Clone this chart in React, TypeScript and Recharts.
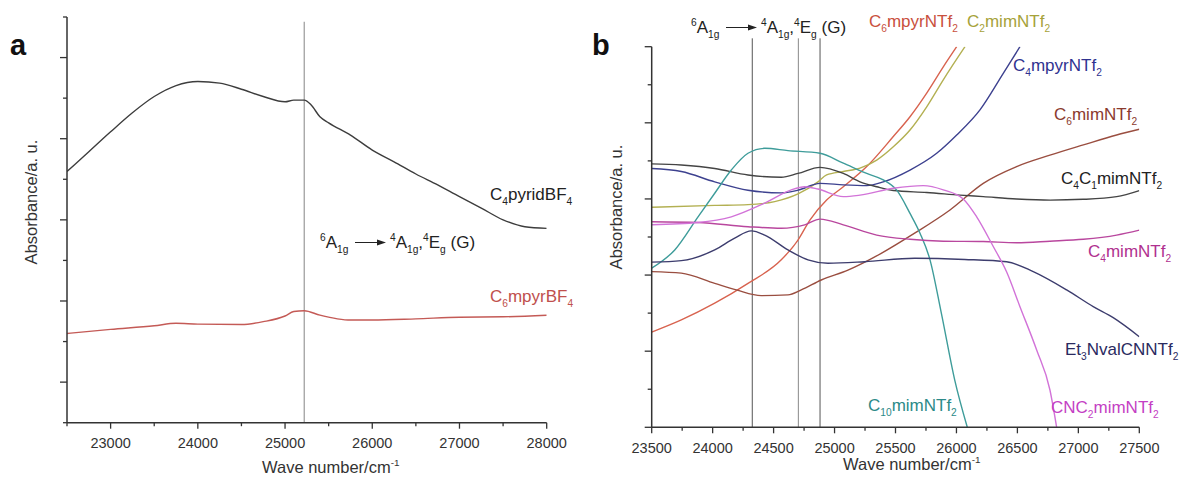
import React from 'react'
import { LineChart, Line, XAxis, YAxis, ReferenceLine } from 'recharts'

const FONT = '"Liberation Sans", Arial, sans-serif'

// ---- panel a ----
const aPyridWave = [22500, 22750, 23000, 23250, 23500, 23750, 24000, 24250, 24500, 24750, 25000, 25100, 25220, 25300, 25400, 25500, 25750, 26000, 26250, 26500, 26750, 27000, 27250, 27500, 27750, 28000]
const aPyridAbs = [6.19, 6.68, 7.17, 7.64, 8.04, 8.31, 8.41, 8.37, 8.22, 8.04, 7.91, 7.95, 7.95, 7.83, 7.54, 7.39, 7.09, 6.72, 6.43, 6.13, 5.86, 5.57, 5.29, 5.0, 4.83, 4.79]
const aMpyrWave = [22500, 23000, 23500, 23750, 24000, 24500, 24750, 25000, 25100, 25220, 25400, 25600, 25750, 26000, 26500, 27000, 27500, 28000]
const aMpyrAbs = [2.2, 2.3, 2.39, 2.45, 2.43, 2.42, 2.49, 2.63, 2.74, 2.76, 2.65, 2.56, 2.53, 2.53, 2.56, 2.6, 2.61, 2.65]
const aXTicks = [22500, 23000, 23500, 24000, 24500, 25000, 25500, 26000, 26500, 27000, 27500, 28000]
const aMarker = 25220

// ---- panel b ----
const bC6mpyrWave = [23500, 23743, 24017, 24290, 24563, 24700, 24799, 24935, 25072, 25264, 25482, 25619, 25756, 25892, 26002]
const bC6mpyrAbs = [2.5, 2.82, 3.26, 3.78, 4.4, 4.92, 5.45, 5.97, 6.32, 6.85, 7.64, 8.16, 8.78, 9.47, 10.0]
const bC2mimWave = [23500, 24017, 24290, 24509, 24700, 24864, 24935, 25072, 25209, 25346, 25482, 25619, 25756, 25892, 26070]
const bC2mimAbs = [5.78, 5.83, 5.85, 5.93, 6.13, 6.45, 6.63, 6.72, 6.81, 7.02, 7.37, 7.81, 8.42, 9.13, 10.0]
const bC4mpyrWave = [23500, 23743, 24017, 24290, 24563, 24700, 24881, 25072, 25264, 25400, 25619, 25838, 26002, 26193, 26384, 26521]
const bC4mpyrAbs = [6.8, 6.72, 6.45, 6.23, 6.16, 6.23, 6.41, 6.37, 6.35, 6.45, 6.76, 7.2, 7.68, 8.34, 9.3, 10.0]
const bC6mimWave = [23500, 23743, 24017, 24194, 24399, 24618, 24727, 24891, 25110, 25383, 25657, 25947, 26220, 26494, 26767, 27041, 27314, 27500]
const bC6mimAbs = [4.09, 4.05, 3.78, 3.61, 3.46, 3.48, 3.61, 3.87, 4.13, 4.57, 5.1, 5.71, 6.41, 6.85, 7.15, 7.42, 7.68, 7.83]
const bC4C1Wave = [23500, 23743, 24017, 24290, 24563, 24700, 24881, 25072, 25209, 25346, 25482, 25756, 26029, 26220, 26494, 26768, 27040, 27314, 27500]
const bC4C1Abs = [6.92, 6.89, 6.8, 6.63, 6.57, 6.67, 6.83, 6.67, 6.45, 6.32, 6.22, 6.17, 6.1, 6.06, 6.0, 5.97, 5.99, 6.06, 6.22]
const bC10Wave = [23500, 23689, 23880, 24017, 24153, 24290, 24427, 24618, 24881, 25072, 25264, 25400, 25510, 25619, 25701, 25783, 25876, 25986, 26089]
const bC10Abs = [4.18, 4.66, 5.53, 6.15, 6.76, 7.2, 7.33, 7.27, 7.2, 6.94, 6.67, 6.5, 6.23, 5.62, 5.1, 4.4, 3.0, 1.24, 0]
const bEt3Wave = [23500, 23743, 24017, 24181, 24317, 24427, 24618, 24782, 24946, 25247, 25657, 26068, 26412, 26630, 26904, 27122, 27286, 27500]
const bEt3Abs = [4.34, 4.38, 4.66, 4.97, 5.16, 5.05, 4.66, 4.4, 4.31, 4.35, 4.44, 4.41, 4.35, 4.09, 3.61, 3.17, 2.88, 2.38]
const bC4mimWave = [23500, 23880, 24290, 24563, 24755, 24881, 25072, 25346, 25619, 25892, 26220, 26494, 26767, 27041, 27314, 27500]
const bC4mimAbs = [5.4, 5.38, 5.27, 5.23, 5.32, 5.47, 5.32, 5.05, 4.94, 4.89, 4.88, 4.85, 4.89, 4.94, 5.05, 5.18]
const bCNC2Wave = [23500, 23880, 24153, 24427, 24645, 24755, 24864, 25072, 25209, 25482, 25728, 25892, 26056, 26166, 26302, 26412, 26521, 26658, 26767, 26822]
const bCNC2Abs = [5.32, 5.38, 5.53, 5.89, 6.24, 6.32, 6.26, 6.06, 6.1, 6.28, 6.35, 6.24, 6.0, 5.53, 4.75, 4.08, 3.17, 2.03, 0.98, 0]
const bXTicks = [23500, 23750, 24000, 24250, 24500, 24750, 25000, 25250, 25500, 25750, 26000, 26250, 26500, 26750, 27000, 27250, 27500]
const bMarkers = [24325, 24703, 24881]

const yTicks = [0, 1, 2, 3, 4, 5, 6, 7, 8, 9, 10]

const toPts = (w: number[], v: number[]) => w.map((x, i) => ({ x, y: v[i] }))

const bSeries = [
  { name: 'C6mpyr', w: bC6mpyrWave, v: bC6mpyrAbs, color: '#d8634f' },
  { name: 'C2mim', w: bC2mimWave, v: bC2mimAbs, color: '#b3b052' },
  { name: 'C4mpyr', w: bC4mpyrWave, v: bC4mpyrAbs, color: '#3d418f' },
  { name: 'C6mim', w: bC6mimWave, v: bC6mimAbs, color: '#9a4e40' },
  { name: 'C4C1', w: bC4C1Wave, v: bC4C1Abs, color: '#444444' },
  { name: 'C10', w: bC10Wave, v: bC10Abs, color: '#3e9c9a' },
  { name: 'Et3', w: bEt3Wave, v: bEt3Abs, color: '#3d3d6e' },
  { name: 'C4mim', w: bC4mimWave, v: bC4mimAbs, color: '#b9479e' },
  { name: 'CNC2', w: bCNC2Wave, v: bCNC2Abs, color: '#d273d8' },
]

const makeXTick = (majorStep: number) => (p: any) => {
  const { x, y, payload } = p
  const major = payload.value % majorStep === 0
  return (
    <g>
      <line x1={x} x2={x} y1={y} y2={y + (major ? 6 : 3.5)} stroke="#333" strokeWidth={1.3} />
      {major && (
        <text x={x} y={y + 25.5} textAnchor="middle" fontSize={14.5} fill="#333" fontFamily={FONT}>
          {payload.value}
        </text>
      )}
    </g>
  )
}

const makeYTick = (oddMajor: boolean) => (p: any) => {
  const v = p.payload.value
  const major = (v % 2 === 1) === oddMajor
  return <line x1={p.x} x2={p.x - (major ? 7 : 4)} y1={p.y} y2={p.y} stroke="#333" strokeWidth={1.3} />
}

// text with _sub and ^sup markup
const Chem = ({ x, y, s, fill = '#333', size = 17, anchor = 'start', transform }: any) => {
  const toks: string[] = s.match(/_\{[^}]*\}|\^\{[^}]*\}|_.|\^.|[^_^]+/g) || []
  let cur = 0
  return (
    <text x={x} y={y} fill={fill} fontSize={size} fontFamily={FONT} textAnchor={anchor} transform={transform}>
      {toks.map((t, i) => {
        let kind = 0
        let txt = t
        if (t[0] === '_' || t[0] === '^') {
          kind = t[0] === '_' ? 1 : -1
          txt = t[1] === '{' ? t.slice(2, -1) : t.slice(1)
        }
        const target = kind === 1 ? size * 0.32 : kind === -1 ? -size * 0.42 : 0
        const dy = target - cur
        cur = target
        return (
          <tspan key={i} dy={dy} fontSize={kind ? size * 0.6 : size}>
            {txt}
          </tspan>
        )
      })}
    </text>
  )
}

const Transition = ({ x, y }: { x: number; y: number }) => (
  <g>
    <Chem x={x} y={y} s="^6A_{1g}" fill="#222" />
    <line x1={x + 35} x2={x + 60} y1={y - 5.5} y2={y - 5.5} stroke="#222" strokeWidth={1} />
    <polygon points={`${x + 66},${y - 5.5} ${x + 57},${y - 8.5} ${x + 57},${y - 2.5}`} fill="#222" />
    <Chem x={x + 70} y={y} s="^4A_{1g},^4E_g (G)" fill="#222" />
  </g>
)

const labelsB = [
  { s: 'C_6mpyrNTf_2', x: 869, y: 27, fill: '#c9503d' },
  { s: 'C_2mimNTf_2', x: 967, y: 27, fill: '#a6a23a' },
  { s: 'C_4mpyrNTf_2', x: 1013, y: 71, fill: '#2f3290' },
  { s: 'C_6mimNTf_2', x: 1054, y: 120, fill: '#8b3a2e' },
  { s: 'C_4C_1mimNTf_2', x: 1061, y: 184, fill: '#222' },
  { s: 'C_4mimNTf_2', x: 1088, y: 257, fill: '#b0308f' },
  { s: 'Et_3NvalCNNTf_2', x: 1065, y: 355, fill: '#2a2a60' },
  { s: 'CNC_2mimNTf_2', x: 1051, y: 413, fill: '#c43fc4' },
  { s: 'C_{10}mimNTf_2', x: 868, y: 411, fill: '#2c8a88' },
]

const axisStyle = { stroke: '#333', strokeWidth: 1.5 }

export default function App() {
  return (
    <div style={{ position: 'fixed', left: 0, top: 0, width: 1185, height: 479, background: '#fff', fontFamily: FONT }}>
      <div style={{ position: 'absolute', left: 0, top: 0 }}>
        <LineChart width={600} height={479} margin={{ top: 17, left: 47, right: 53.3, bottom: 26.3 }}>
          <XAxis
            type="number"
            dataKey="x"
            domain={[22500, 28000]}
            allowDataOverflow
            ticks={aXTicks}
            interval={0}
            height={30}
            tickSize={0}
            tickMargin={0}
            tickLine={false}
            tick={makeXTick(1000)}
            axisLine={axisStyle}
          />
          <YAxis
            type="number"
            domain={[0, 10]}
            allowDataOverflow
            ticks={yTicks}
            interval={0}
            width={20}
            tickSize={0}
            tickMargin={0}
            tickLine={false}
            tick={makeYTick(true)}
            axisLine={axisStyle}
          />
          <ReferenceLine segment={[{ x: aMarker, y: 0 }, { x: aMarker, y: 9.88 }]} stroke="#999" strokeWidth={1.2} ifOverflow="visible" />
          <Line data={toPts(aPyridWave, aPyridAbs)} dataKey="y" type="monotone" stroke="#3d3d3d" strokeWidth={1.4} dot={false} isAnimationActive={false} />
          <Line data={toPts(aMpyrWave, aMpyrAbs)} dataKey="y" type="monotone" stroke="#c45a56" strokeWidth={1.4} dot={false} isAnimationActive={false} />
        </LineChart>
      </div>
      <div style={{ position: 'absolute', left: 600, top: 0 }}>
        <LineChart width={585} height={479} margin={{ top: 46.7, left: 31.7, right: 45.7, bottom: 21.7 }}>
          <XAxis
            type="number"
            dataKey="x"
            domain={[23500, 27500]}
            allowDataOverflow
            ticks={bXTicks}
            interval={0}
            height={30}
            tickSize={0}
            tickMargin={0}
            tickLine={false}
            tick={makeXTick(500)}
            axisLine={axisStyle}
          />
          <YAxis
            type="number"
            domain={[0, 10]}
            allowDataOverflow
            ticks={yTicks}
            interval={0}
            width={20}
            tickSize={0}
            tickMargin={0}
            tickLine={false}
            tick={makeYTick(false)}
            axisLine={axisStyle}
          />
          {bMarkers.map((m, i) => (
            <ReferenceLine
              key={m}
              segment={[{ x: m, y: 0 }, { x: m, y: 10.22 }]}
              stroke={i === 1 ? '#888' : '#555'}
              strokeWidth={1}
              ifOverflow="visible"
            />
          ))}
          {bSeries.map((s) => (
            <Line
              key={s.name}
              data={toPts(s.w, s.v)}
              dataKey="y"
              type="monotone"
              stroke={s.color}
              strokeWidth={1.4}
              dot={false}
              isAnimationActive={false}
            />
          ))}
        </LineChart>
      </div>
      <svg width={1185} height={479} style={{ position: 'absolute', left: 0, top: 0, pointerEvents: 'none' }}>
        <text x={10} y={55} fontSize={29} fontWeight="bold" fontFamily={FONT} fill="#111">a</text>
        <text x={592} y={55} fontSize={29} fontWeight="bold" fontFamily={FONT} fill="#111">b</text>

        <Chem x={490} y={200} s="C_4pyridBF_4" fill="#222" />
        <Chem x={490} y={302} s="C_6mpyrBF_4" fill="#c0504d" />
        <Transition x={320} y={248} />
        <Chem x={262} y={473} s="Wave number/cm^{-1}" size={16.5} />
        <Chem x={37} y={202} s="Absorbance/a. u." size={16.5} anchor="middle" transform="rotate(-90 37 202)" />

        <Transition x={691} y={33} />
        <Chem x={843} y={470} s="Wave number/cm^{-1}" size={16.5} />
        <Chem x={622} y={207} s="Absorbance/a. u." size={16.5} anchor="middle" transform="rotate(-90 622 207)" />
        {labelsB.map((l) => (
          <Chem key={l.s} x={l.x} y={l.y} s={l.s} fill={l.fill} />
        ))}
      </svg>
    </div>
  )
}
